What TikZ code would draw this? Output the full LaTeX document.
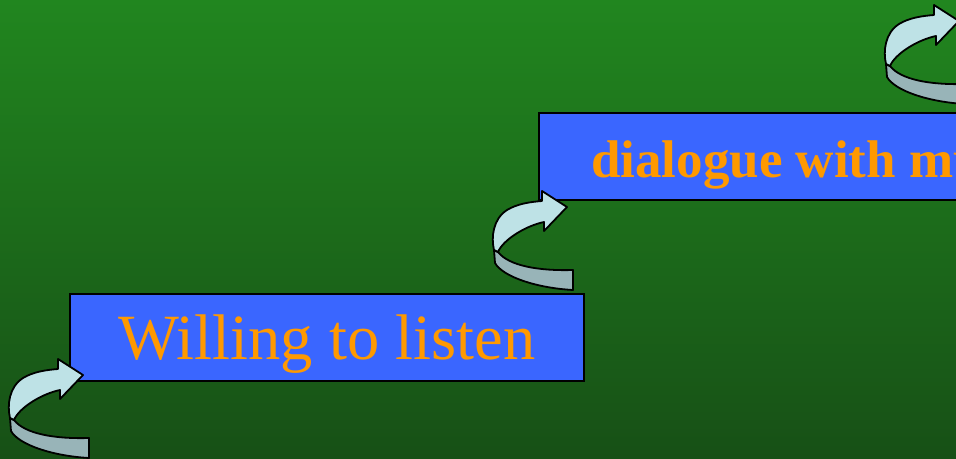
\documentclass[tikz,border=0pt]{standalone}
\usepackage{fontspec}
\setmainfont{Liberation Serif}
\definecolor{bgtop}{RGB}{33,134,31}
\definecolor{bgbot}{RGB}{23,80,22}
\definecolor{boxblue}{RGB}{58,102,255}
\definecolor{txtorange}{RGB}{255,153,0}
\definecolor{ribfront}{RGB}{190,226,230}
\definecolor{ribback}{RGB}{152,180,184}
\tikzset{
  stepbox/.style={draw=black, line width=2.5pt, fill=boxblue},
  ribbon/.style={draw=black, line width=1.8pt, line join=round},
  uturn/.pic={
    % back face (darker)
    \path[ribbon, fill=ribback]
      (-73,43) -- (-72,56)
      .. controls (-64,70) and (-30,81) .. (6,83)
      -- (6,63)
      .. controls (-28,64) and (-58,59) .. (-69,45) -- cycle;
    % front face (light) with arrow head
    \path[ribbon, fill=ribfront]
      (-25,-6) -- (-25,-16) -- (0,0) -- (-23,24) -- (-23,15)
      .. controls (-42,19) and (-64,33) .. (-69,45)
      -- (-73,43)
      .. controls (-76,30) and (-74,12) .. (-60,3)
      .. controls (-50,-3) and (-38,-5) .. (-25,-6) -- cycle;
  }
}
\begin{document}
\begin{tikzpicture}[x=1pt,y=-1pt]
\useasboundingbox (0,0) rectangle (956,458);
\clip (0,0) rectangle (956,458);
\shade[top color=bgtop, bottom color=bgbot] (0,0) rectangle (956,458);
% boxes
\path[stepbox] (70,294) rectangle (584,381);
\path[stepbox] (539,113) rectangle (980,200);
\node[anchor=base, text=txtorange, inner sep=0pt, font=\fontsize{64.5}{70}\selectfont] (t1) at (327,359) {Willing to listen};
\node[anchor=base west, text=txtorange, inner sep=0pt, font=\fontsize{53}{60}\selectfont\bfseries] (t2) at (591,177) {dialogue with mu};
% arrows
\pic at (83,375) {uturn};
\pic at (567,207) {uturn};
\pic at (959,21) {uturn};
\end{tikzpicture}
\end{document}
